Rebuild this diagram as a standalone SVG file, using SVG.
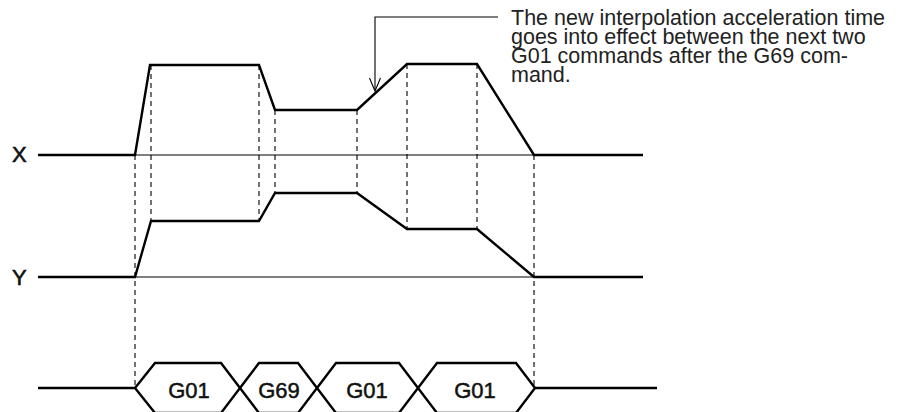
<svg xmlns="http://www.w3.org/2000/svg" width="907" height="412" viewBox="0 0 907 412">
<style>
.wave{fill:none;stroke:#000;stroke-width:2.4;stroke-linejoin:miter}
.axis{fill:none;stroke:#000;stroke-width:1.2}
.dash{fill:none;stroke:#000;stroke-width:1.1;stroke-dasharray:5 4}
.lead{fill:none;stroke:#000;stroke-width:1.1}
.lbl{font-family:"Liberation Sans",Arial,sans-serif;font-size:22px;fill:#111;stroke:#111;stroke-width:0.6}
.note{font-family:"Liberation Sans",Arial,sans-serif;font-size:21.5px;fill:#222}
.cmd{font-family:"Liberation Sans",Arial,sans-serif;font-size:22px;fill:#111;stroke:#111;stroke-width:0.5;text-anchor:middle}
</style>
<rect width="907" height="412" fill="#fff"/>
<g id="axes">
<line class="axis" x1="135" y1="155" x2="534" y2="155"/>
<line class="axis" x1="135" y1="277" x2="534" y2="277"/>
</g>
<g id="dashes">
<line class="dash" x1="135" y1="155" x2="135" y2="388"/>
<line class="dash" x1="534" y1="155" x2="534" y2="388"/>
<line class="dash" x1="151" y1="65" x2="151" y2="221"/>
<line class="dash" x1="259" y1="65" x2="259" y2="221"/>
<line class="dash" x1="275" y1="110" x2="275" y2="193"/>
<line class="dash" x1="357" y1="110" x2="357" y2="193"/>
<line class="dash" x1="407" y1="64" x2="407" y2="229"/>
<line class="dash" x1="477" y1="64" x2="477" y2="229"/>
</g>
<g id="x-wave">
<text class="lbl" x="12" y="162">X</text>
<polyline class="wave" points="38,155 135,155 150,65 259,65 275,110 357,110 407,64 477,64 534,155 643,155"/>
</g>
<g id="y-wave">
<text class="lbl" x="12" y="285">Y</text>
<polyline class="wave" points="38,277 135,277 151,221 259,221 275,193 357,193 407,229 477,229 534,277 643,277"/>
</g>
<g id="commands">
<line class="wave" x1="38" y1="388" x2="135" y2="388"/>
<line class="wave" x1="535" y1="388" x2="657" y2="388"/>
<polygon class="wave" points="135,388 155,363 221,363 240,388 221,413 155,413"/>
<polygon class="wave" points="240,388 259,363 298,363 317,388 298,413 259,413"/>
<polygon class="wave" points="317,388 336,363 399,363 418,388 399,413 336,413"/>
<polygon class="wave" points="418,388 437,363 516,363 535,388 516,413 437,413"/>
<text class="cmd" x="189" y="398">G01</text>
<text class="cmd" x="279" y="398">G69</text>
<text class="cmd" x="367" y="398">G01</text>
<text class="cmd" x="475" y="398">G01</text>
</g>
<g id="note">
<polyline class="lead" points="498,17 375,17 375,90"/>
<polyline class="lead" points="369.5,78 375,91 380.5,78"/>
<text class="note" x="511" y="25">The new interpolation acceleration time</text>
<text class="note" x="511" y="44">goes into effect between the next two</text>
<text class="note" x="511" y="63">G01 commands after the G69 com-</text>
<text class="note" x="511" y="82">mand.</text>
</g>
</svg>
